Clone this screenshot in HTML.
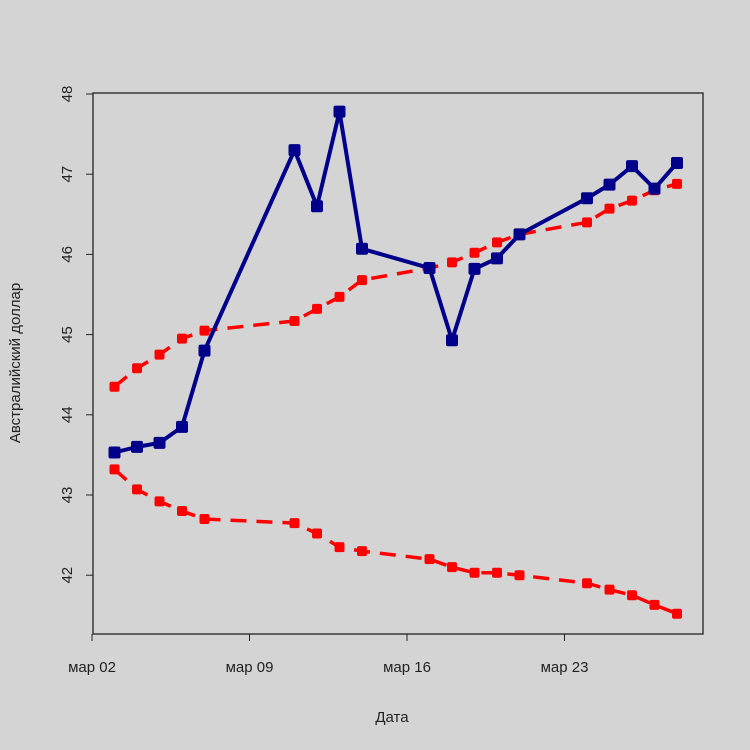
<!DOCTYPE html>
<html><head><meta charset="utf-8"><style>
body{margin:0;background:#d4d4d4;}
svg{display:block;font-family:"Liberation Sans",sans-serif;}
</style></head><body>
<svg id="s" width="750" height="750" xmlns="http://www.w3.org/2000/svg">
<rect width="750" height="750" fill="#d4d4d4"/>
<rect x="93" y="93" width="610" height="541" fill="none" stroke="#222" stroke-width="1.3"/>
<g id="g"></g>
</svg>
<script>
var g=document.getElementById('g'),h='';
function X(d){return 92+(d-2)*22.5;}
function Y(v){return 94+(48-v)*80.2;}
// y axis
for(var v=42;v<=48;v++){var y=Y(v);h+='<line x1="86" x2="93" y1="'+y+'" y2="'+y+'" stroke="#222"/>';
h+='<text transform="translate(72,'+y+') rotate(-90)" text-anchor="middle" font-size="15" fill="#222">'+v+'</text>';}
h+='<line x1="93" x2="93" y1="94" y2="575" stroke="#222"/>';
var lab=['мар 02','мар 09','мар 16','мар 23'];
for(var i=0;i<4;i++){var x=X(2+7*i);h+='<line x1="'+x+'" x2="'+x+'" y1="634" y2="641" stroke="#222"/>';
h+='<text x="'+x+'" y="672" text-anchor="middle" font-size="15" fill="#222">'+lab[i]+'</text>';}
h+='<text x="392" y="722" text-anchor="middle" font-size="15" fill="#222">Дата</text>';
h+='<text transform="translate(20,363) rotate(-90)" text-anchor="middle" font-size="15" fill="#222">Австралийский доллар</text>';
var days=[3,4,5,6,7,11,12,13,14,17,18,19,20,21,24,25,26,27,28];
var blue=[43.53,43.6,43.65,43.85,44.8,47.3,46.6,47.78,46.07,45.83,44.93,45.82,45.95,46.25,46.7,46.87,47.1,46.82,47.14];
var up=[44.35,44.58,44.75,44.95,45.05,45.17,45.32,45.47,45.68,45.83,45.9,46.02,46.15,46.25,46.4,46.57,46.67,46.8,46.88];
var lo=[43.32,43.07,42.92,42.8,42.7,42.65,42.52,42.35,42.3,42.2,42.1,42.03,42.03,42.0,41.9,41.82,41.75,41.63,41.52];
function line(a,c,dash,w){var p=days.map(function(d,i){return X(d)+','+Y(a[i]);}).join(' ');
return '<polyline points="'+p+'" fill="none" stroke="'+c+'" stroke-width="'+w+'" '+(dash?'stroke-dasharray="16 10"':'')+' stroke-linejoin="round"/>';}
function pts(a,c,s){return days.map(function(d,i){return '<rect x="'+(X(d)-s/2)+'" y="'+(Y(a[i])-s/2)+'" width="'+s+'" height="'+s+'" rx="2" fill="'+c+'"/>';}).join('');}
h+=line(up,'#f00',1,3.5)+pts(up,'#f00',10);
h+=line(lo,'#f00',1,3.5)+pts(lo,'#f00',10);
h+=line(blue,'#00008b',0,4)+pts(blue,'#00008b',12);
g.innerHTML=h;
</script>
</body></html>
